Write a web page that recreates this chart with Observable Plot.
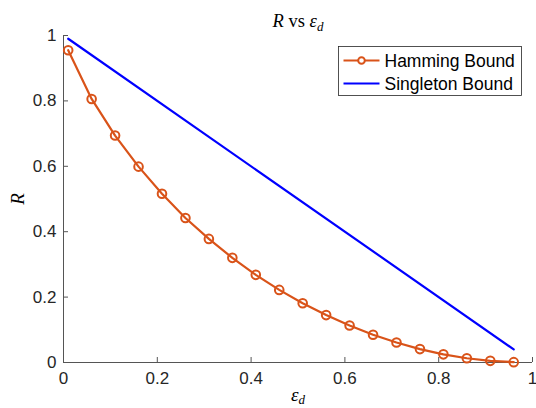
<!DOCTYPE html>
<html>
<head>
<meta charset="utf-8">
<script src="https://cdn.jsdelivr.net/npm/d3@7"></script>
<script src="https://cdn.jsdelivr.net/npm/@observablehq/plot@0.6"></script>
<style>
  html, body { margin: 0; padding: 0; background: #fff; }
</style>
</head>
<body>
<div id="chart"></div>
<script>
// ---- data ----
const eps = [0.01, 0.06, 0.11, 0.16, 0.21, 0.26, 0.31, 0.36, 0.41, 0.46,
             0.51, 0.56, 0.61, 0.66, 0.71, 0.76, 0.81, 0.86, 0.91, 0.96];
const hamming = [0.955, 0.806, 0.694, 0.599, 0.516, 0.442, 0.378, 0.320, 0.268, 0.222,
                 0.181, 0.145, 0.113, 0.085, 0.061, 0.041, 0.025, 0.013, 0.005, 0.001];
const singletonX = [0.01, 0.96];
const singleton = [0.99, 0.04];
const xTicks = [0, 0.2, 0.4, 0.6, 0.8, 1];
const yTicks = [0, 0.2, 0.4, 0.6, 0.8, 1];
const seriesNames = ["Hamming Bound", "Singleton Bound"];
const seriesColors = ["#D95319", "#0000FF"];

const hamData = eps.map((e, i) => ({x: e, y: hamming[i]}));
const sinData = singletonX.map((e, i) => ({x: e, y: singleton[i]}));

const axisColor = "#555";
const fmt = d => String(d);

const chart = Plot.plot({
  width: 536,
  height: 408,
  marginLeft: 63,
  marginRight: 4,
  marginTop: 35,
  marginBottom: 46,
  style: {fontFamily: "'Liberation Sans', Arial, Helvetica, sans-serif", fontSize: "17px", color: "#262626", background: "#fff"},
  x: {domain: [0, 1]},
  y: {domain: [0, 1]},
  marks: [
    Plot.ruleY([0], {stroke: axisColor}),
    Plot.ruleX([0], {stroke: axisColor}),
    // inward tick marks
    Plot.ruleX(xTicks, {y1: 0, y2: 0, insetTop: 0, insetBottom: 5, stroke: axisColor}),
    Plot.ruleY(yTicks, {x1: 0, x2: 0, insetLeft: 0, insetRight: -5, stroke: axisColor}),
    Plot.axisX(xTicks, {tickSize: 0, tickPadding: 9, tickFormat: fmt, label: null, fill: "#262626"}),
    Plot.axisY(yTicks, {tickSize: 0, tickPadding: 7, tickFormat: fmt, label: null, fill: "#262626"}),
    Plot.line(sinData, {x: "x", y: "y", stroke: seriesColors[1], strokeWidth: 2.2}),
    Plot.line(hamData, {x: "x", y: "y", stroke: seriesColors[0], strokeWidth: 2.2}),
    Plot.dot(hamData, {x: "x", y: "y", r: 4.3, stroke: seriesColors[0], strokeWidth: 2, fill: "none"})
  ]
});

document.getElementById("chart").appendChild(chart);

const svg = d3.select(chart);
const mathSerif = "'Liberation Serif', 'DejaVu Serif', serif";

// Title
const title = svg.append("text")
  .attr("x", 298).attr("y", 27)
  .attr("text-anchor", "middle")
  .attr("font-family", mathSerif)
  .attr("font-size", 18.5)
  .attr("fill", "#000");
title.append("tspan").attr("font-style", "italic").text("R");
title.append("tspan").text(" vs ");
title.append("tspan").attr("font-style", "italic").text("ε");
title.append("tspan").attr("font-style", "italic").attr("font-size", 13).attr("dy", 4).text("d");

// Y label
svg.append("text")
  .attr("transform", "translate(24,199) rotate(-90)")
  .attr("text-anchor", "middle")
  .attr("font-family", mathSerif)
  .attr("font-style", "italic")
  .attr("font-size", 19)
  .attr("fill", "#000")
  .text("R");

// X label
const xl = svg.append("text")
  .attr("x", 298).attr("y", 401)
  .attr("text-anchor", "middle")
  .attr("font-family", mathSerif)
  .attr("font-style", "italic")
  .attr("font-size", 19)
  .attr("fill", "#000");
xl.append("tspan").text("ε");
xl.append("tspan").attr("font-size", 13).attr("dy", 3).text("d");

// Legend
const lg = svg.append("g").attr("transform", "translate(338.5,46.5)");
lg.append("rect").attr("width", 183).attr("height", 49)
  .attr("fill", "#fff").attr("stroke", "#262626").attr("stroke-width", 0.8);
const rowsY = [14, 37];
seriesNames.forEach((name, i) => {
  lg.append("line").attr("x1", 5).attr("x2", 41).attr("y1", rowsY[i]).attr("y2", rowsY[i])
    .attr("stroke", seriesColors[i]).attr("stroke-width", 2.2);
  if (i === 0) {
    lg.append("circle").attr("cx", 23).attr("cy", rowsY[i]).attr("r", 3.3)
      .attr("fill", "#fff").attr("stroke", seriesColors[i]).attr("stroke-width", 2);
  }
  lg.append("text").attr("x", 46).attr("y", rowsY[i]).attr("dy", "0.36em")
    .attr("text-anchor", "start")
    .attr("font-family", "'Liberation Sans', Arial, sans-serif")
    .attr("font-size", 17.5).attr("fill", "#000").text(name);
});
</script>
</body>
</html>
